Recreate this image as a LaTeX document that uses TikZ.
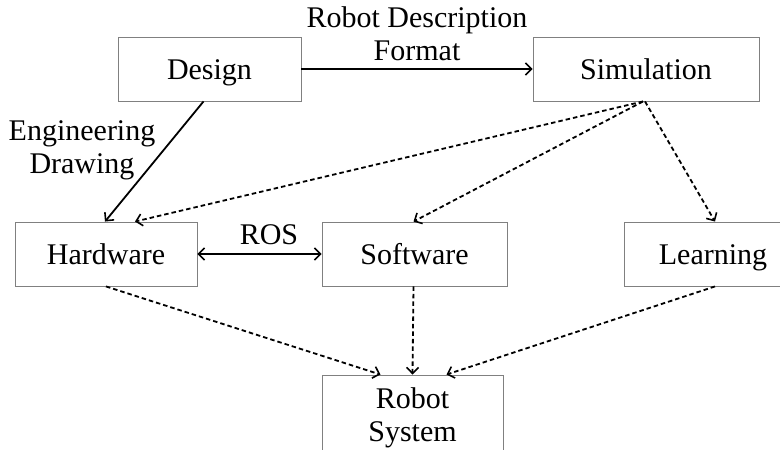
\documentclass[tikz,border=0pt]{standalone}
\usepackage{fontspec}
\setmainfont{Liberation Serif}
\usetikzlibrary{arrows.meta}
\begin{document}
\begin{tikzpicture}[x=1pt,y=-1pt,
  font=\fontsize{30}{33}\selectfont,
  tip/.tip={Straight Barb[length=6pt,width=12pt,line width=1.6pt]},
  box/.style={draw=black!50,line width=0.9pt,rectangle,inner sep=0pt,minimum height=64pt,text height=20pt,text depth=0pt},
  mbox/.style={draw=black!50,line width=0.9pt,rectangle,inner sep=0pt,align=center},
  solidarrow/.style={draw=black,line width=1.8pt,-tip},
  dasharrow/.style={draw=black,line width=1.8pt,dash pattern=on 4.5pt off 3pt,-tip},
  lbl/.style={align=center,inner sep=0pt}]
\useasboundingbox (0,0) rectangle (780,450);
\clip (0,0) rectangle (780,450);
\node[box,minimum width=183pt] (design) at (209.5,69) {Design};
\node[box,minimum width=226pt] (sim) at (646,69) {Simulation};
\node[box,minimum width=182pt] (hw) at (106,254) {Hardware};
\node[box,minimum width=185pt] (sw) at (414.5,254) {Software};
\node[box,minimum width=178pt] (learn) at (713,254) {Learning};
\node[mbox,minimum width=181pt,minimum height=86pt] (robot) at (412.5,418) {Robot\\System};
\draw[solidarrow] (design.east) -- (sim.west);
\draw[solidarrow] ([xshift=-6pt]design.south) -- ([xshift=-1pt]hw.north);
\draw[dasharrow] ([xshift=-3pt]sim.south) -- ([xshift=29pt]hw.north);
\draw[dasharrow] ([xshift=-3pt]sim.south) -- ([xshift=-1pt]sw.north);
\draw[dasharrow] ([xshift=-1pt]sim.south) -- ([xshift=2pt]learn.north);
\draw[draw=black,line width=1.8pt,tip-tip] (hw.east) -- (sw.west);
\draw[dasharrow] (hw.south) -- ([xshift=-32pt]robot.north);
\draw[dasharrow] ([xshift=-1pt]sw.south) -- (robot.north);
\draw[dasharrow] ([xshift=2pt]learn.south) -- ([xshift=34pt]robot.north);
\node[lbl] (rdf) at (417,34) {Robot Description\\Format};
\node[lbl] (eng) at (82,150) {Engineering\\Drawing};
\node[lbl] (ros) at (269,235) {ROS};
\end{tikzpicture}
\end{document}
